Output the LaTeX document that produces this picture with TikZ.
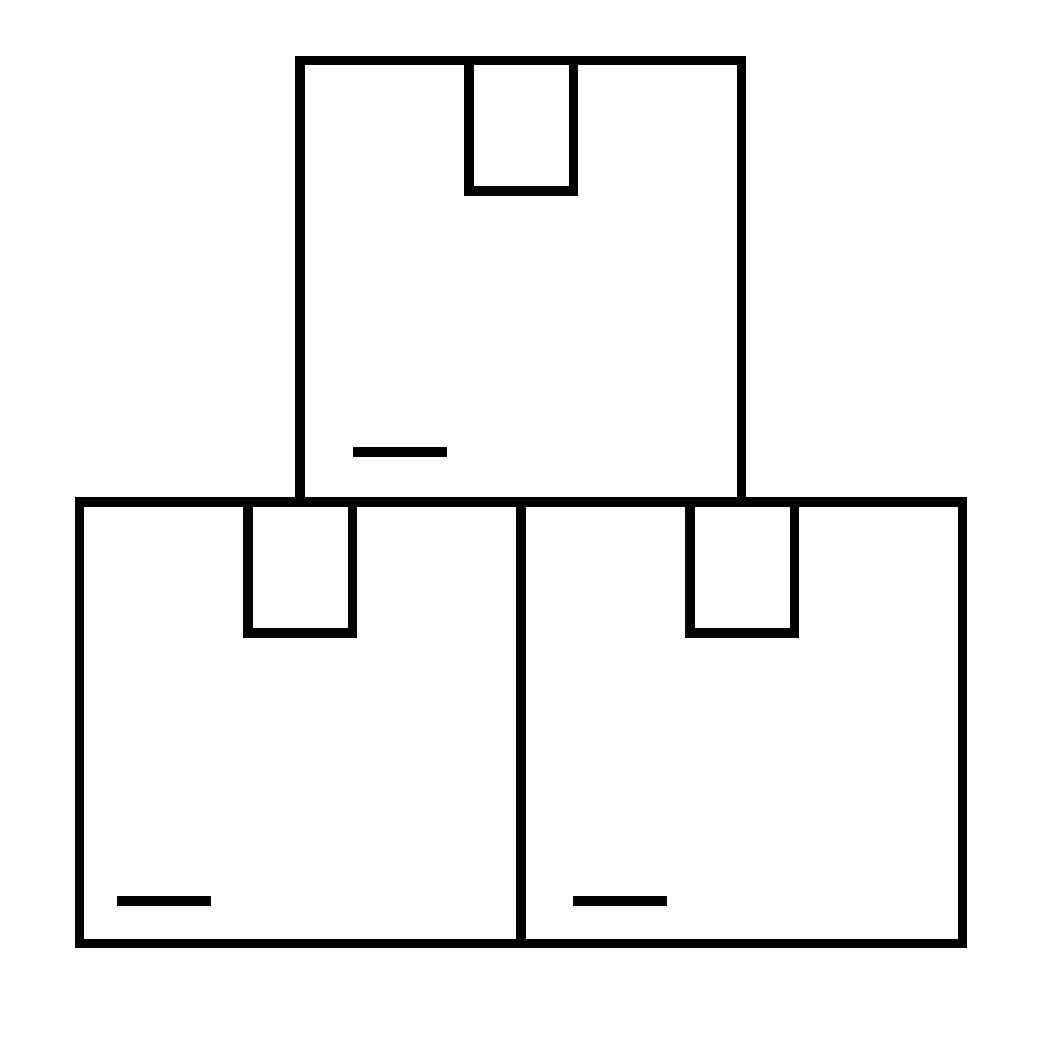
\documentclass[tikz,border=0pt]{standalone}
\tikzset{boxline/.style={draw=black,line width=9.4pt*0.72,line cap=butt,line join=miter}}
\begin{document}
\begin{tikzpicture}[x=1pt,y=-1pt,scale=0.72]
    \useasboundingbox (0,0) rectangle (1042,1042);
    % top box
    \draw[boxline] (300,60.2) rectangle (741.7,502);
    \draw[boxline] (469,60.2) rectangle (573.5,191);
    \draw[boxline] (353,452)--(447,452);
    % left box
    \draw[boxline] (79.3,502) rectangle (521,943.6);
    \draw[boxline] (248,502) rectangle (352.5,633);
    \draw[boxline] (117,901)--(211,901);
    % right box
    \draw[boxline] (521,502) rectangle (962.7,943.6);
    \draw[boxline] (690,502) rectangle (794.5,633);
    \draw[boxline] (573,901)--(667,901);
\end{tikzpicture}
\end{document}
